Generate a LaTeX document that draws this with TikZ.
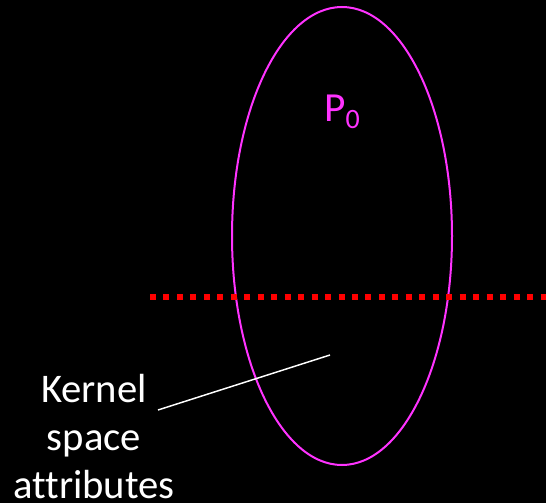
\documentclass[tikz,border=0pt]{standalone}
\usepackage{fontspec}
\setmainfont[Ligatures=NoCommon]{Carlito}
\usetikzlibrary{shapes.geometric}
\definecolor{pmag}{RGB}{255,51,255}
\definecolor{dred}{RGB}{255,0,0}
\begin{document}
\begin{tikzpicture}[x=0.75pt,y=-0.75pt]
\tikzset{
  proc/.style={draw=pmag, line width=1.5pt},
  divider/.style={draw=dred, line width=4.5pt, dash pattern=on 4.5pt off 5.6pt},
  lbl/.style={text=white, font=\fontsize{30.5}{36}\selectfont, align=center, inner sep=0pt},
  leader/.style={draw=white, line width=1.1pt}
}
\fill[black] (0,0) rectangle (546,503);
\useasboundingbox (0,0) rectangle (546,503);
\node[proc, ellipse, minimum width=220*0.75pt, minimum height=458*0.75pt, inner sep=0pt] (p0) at (342,236) {};
\node[text=pmag, font=\fontsize{31}{36}\selectfont, anchor=base, inner sep=0pt] (p0lbl) at (342,122) {P\raisebox{-5pt}{\fontsize{21}{21}\selectfont 0}};
\coordinate (dl) at (150,297);
\coordinate (dr) at (546,297);
\draw[divider] (dl) -- (dr);
\node[lbl, anchor=base] (kern) at (94,498) {Kernel\\space\\attributes};
\coordinate (ls) at (158,410);
\coordinate (le) at (330,355);
\draw[leader] (ls) -- (le);
\end{tikzpicture}
\end{document}
